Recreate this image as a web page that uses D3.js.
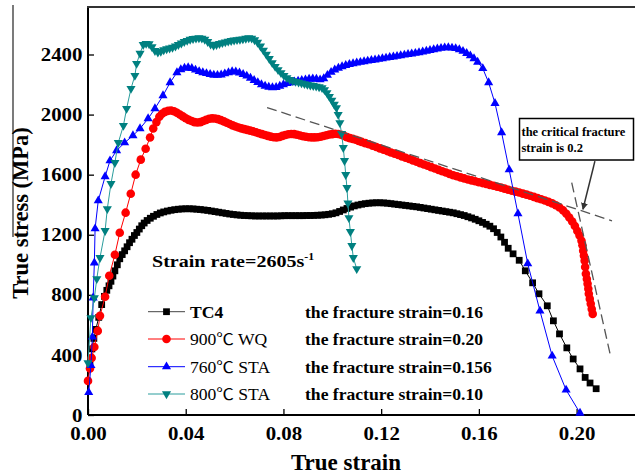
<!DOCTYPE html>
<html><head><meta charset="utf-8">
<script src="https://cdn.jsdelivr.net/npm/d3@7"></script>
<style>body{margin:0;background:#fff}svg{display:block}</style>
</head><body>
<svg id="c" width="635" height="475"></svg>
<script>
// ---------- data ----------
const xTickValues = [0, 0.04, 0.08, 0.12, 0.16, 0.20];
const yTickValues = [0, 400, 800, 1200, 1600, 2000, 2400];
const seriesNames = ["TC4", " 900℃ WQ", "760℃ STA", "800℃ STA"];
const fractureLabels = ["the fracture strain=0.16", "the fracture strain=0.20", "the fracture strain=0.156", "the fracture strain=0.10"];
const seriesColors = ["#000000", "#ff0000", "#0000ff", "#008080"];
const strainRateText = "Strain rate=2605s";
const strainRateSup = "-1";
const noteLines = ["the critical fracture", "strain is 0.2"];

const tc4 = [[0.0008,330],[0.0016,440],[0.0024,510],[0.0032,570],[0.0044,650],[0.0056,735],[0.0067,790],[0.0077,830],[0.0086,860],[0.0094,890],[0.0102,925],[0.0110,960],[0.0120,1000],[0.0130,1040],[0.0140,1068],[0.0150,1093],[0.0160,1120],[0.0170,1147],[0.0180,1170],[0.0190,1195],[0.0200,1215],[0.0210,1238],[0.0220,1260],[0.0230,1278],[0.0242,1295],[0.0255,1310],[0.0268,1323],[0.0282,1335],[0.0296,1345],[0.0310,1352],[0.0325,1358],[0.0340,1363],[0.0355,1367],[0.0370,1370],[0.0385,1372],[0.0400,1373],[0.0415,1373],[0.0430,1372],[0.0445,1370],[0.0460,1368],[0.0475,1365],[0.0490,1362],[0.0505,1358],[0.0520,1354],[0.0535,1350],[0.0550,1346],[0.0565,1342],[0.0580,1338],[0.0595,1335],[0.0610,1332],[0.0625,1330],[0.0640,1328],[0.0655,1327],[0.0670,1326],[0.0685,1325],[0.0700,1325],[0.0715,1325],[0.0730,1325],[0.0745,1325],[0.0760,1325],[0.0775,1325],[0.0790,1326],[0.0805,1327],[0.0820,1327],[0.0835,1327],[0.0850,1327],[0.0865,1327],[0.0880,1327],[0.0895,1328],[0.0910,1328],[0.0925,1329],[0.0940,1330],[0.0955,1331],[0.0970,1333],[0.0985,1336],[0.1000,1340],[0.1015,1346],[0.1030,1355],[0.1045,1365],[0.1060,1375],[0.1075,1384],[0.1090,1392],[0.1105,1398],[0.1120,1403],[0.1135,1407],[0.1150,1410],[0.1165,1412],[0.1180,1413],[0.1195,1413],[0.1210,1412],[0.1225,1410],[0.1240,1407],[0.1255,1404],[0.1270,1401],[0.1285,1398],[0.1300,1395],[0.1315,1392],[0.1330,1389],[0.1345,1386],[0.1360,1382],[0.1375,1378],[0.1390,1374],[0.1405,1370],[0.1420,1366],[0.1435,1362],[0.1450,1358],[0.1465,1354],[0.1480,1350],[0.1495,1346],[0.1510,1340],[0.1525,1334],[0.1540,1328],[0.1555,1320],[0.1570,1312],[0.1585,1303],[0.1600,1293],[0.1615,1282],[0.1630,1270],[0.1645,1257],[0.1660,1240],[0.1675,1215],[0.1690,1185],[0.1705,1150],[0.1720,1110],[0.1740,1073],[0.1765,1030],[0.1790,960],[0.1820,880],[0.1846,807],[0.1880,727],[0.1905,627],[0.1930,540],[0.1960,447],[0.1986,373],[0.2014,307],[0.2035,250],[0.2055,213],[0.2080,175]];

const wq900 = [[0.0000,227],[0.0008,310],[0.0015,380],[0.0026,453],[0.0040,560],[0.0049,660],[0.0070,787],[0.0087,927],[0.0110,1067],[0.0130,1213],[0.0154,1347],[0.0175,1473],[0.0195,1600],[0.0216,1700],[0.0236,1773],[0.0254,1847],[0.0267,1907],[0.0280,1950],[0.0292,1985],[0.0303,2005],[0.0315,2018],[0.0328,2025],[0.0340,2027],[0.0352,2022],[0.0364,2012],[0.0376,2000],[0.0388,1988],[0.0400,1976],[0.0412,1965],[0.0424,1957],[0.0436,1950],[0.0448,1947],[0.0460,1950],[0.0472,1957],[0.0484,1965],[0.0496,1972],[0.0508,1975],[0.0520,1974],[0.0532,1970],[0.0544,1963],[0.0556,1955],[0.0568,1946],[0.0580,1937],[0.0592,1928],[0.0604,1921],[0.0616,1914],[0.0628,1908],[0.0640,1903],[0.0652,1898],[0.0664,1893],[0.0676,1888],[0.0688,1882],[0.0700,1876],[0.0712,1870],[0.0724,1864],[0.0736,1858],[0.0748,1853],[0.0760,1849],[0.0772,1848],[0.0784,1851],[0.0796,1858],[0.0808,1864],[0.0820,1869],[0.0832,1871],[0.0844,1870],[0.0856,1866],[0.0868,1861],[0.0880,1856],[0.0892,1852],[0.0904,1849],[0.0916,1848],[0.0928,1848],[0.0940,1849],[0.0952,1852],[0.0964,1857],[0.0976,1862],[0.0988,1867],[0.1000,1870],[0.1012,1872],[0.1024,1871],[0.1036,1866],[0.1048,1858],[0.1060,1850],[0.1072,1843],[0.1084,1838],[0.1096,1832],[0.1108,1825],[0.1120,1818],[0.1135,1810],[0.1150,1802],[0.1165,1793],[0.1180,1784],[0.1195,1775],[0.1210,1766],[0.1225,1757],[0.1240,1748],[0.1255,1740],[0.1270,1731],[0.1285,1722],[0.1300,1713],[0.1315,1704],[0.1330,1695],[0.1345,1686],[0.1360,1677],[0.1375,1668],[0.1390,1659],[0.1405,1650],[0.1420,1641],[0.1435,1632],[0.1450,1623],[0.1465,1614],[0.1480,1605],[0.1495,1596],[0.1510,1589],[0.1525,1582],[0.1540,1575],[0.1555,1568],[0.1570,1562],[0.1585,1556],[0.1600,1550],[0.1615,1544],[0.1630,1538],[0.1645,1532],[0.1660,1526],[0.1675,1520],[0.1690,1514],[0.1705,1507],[0.1720,1500],[0.1735,1493],[0.1750,1487],[0.1765,1481],[0.1780,1474],[0.1795,1467],[0.1810,1460],[0.1825,1452],[0.1840,1444],[0.1855,1436],[0.1870,1428],[0.1885,1419],[0.1900,1409],[0.1915,1396],[0.1930,1381],[0.1945,1362],[0.1958,1340],[0.1970,1315],[0.1982,1288],[0.1993,1258],[0.2003,1225],[0.2012,1195],[0.2020,1160],[0.2024,1130],[0.2027,1093],[0.2030,1060],[0.2033,1027],[0.2035,985],[0.2038,940],[0.2042,905],[0.2045,873],[0.2048,840],[0.2050,807],[0.2054,773],[0.2058,740],[0.2062,705],[0.2066,673]];

const sta760 = [[0.0003,150],[0.0012,330],[0.0018,520],[0.0021,780],[0.0026,1013],[0.0029,1240],[0.0042,1427],[0.0070,1587],[0.0090,1693],[0.0117,1760],[0.0150,1813],[0.0184,1860],[0.0213,1907],[0.0246,1973],[0.0274,2040],[0.0307,2127],[0.0336,2213],[0.0364,2280],[0.0380,2300],[0.0395,2310],[0.0410,2313],[0.0425,2308],[0.0440,2297],[0.0455,2287],[0.0470,2280],[0.0485,2274],[0.0500,2268],[0.0515,2263],[0.0530,2262],[0.0545,2265],[0.0560,2272],[0.0575,2280],[0.0590,2286],[0.0605,2285],[0.0620,2278],[0.0635,2268],[0.0650,2257],[0.0665,2243],[0.0680,2228],[0.0695,2214],[0.0710,2200],[0.0725,2190],[0.0740,2183],[0.0755,2180],[0.0770,2182],[0.0785,2190],[0.0800,2200],[0.0815,2207],[0.0830,2213],[0.0845,2219],[0.0860,2224],[0.0875,2228],[0.0890,2232],[0.0905,2236],[0.0920,2238],[0.0935,2236],[0.0950,2232],[0.0965,2240],[0.0980,2262],[0.0995,2282],[0.1010,2298],[0.1025,2310],[0.1040,2320],[0.1055,2328],[0.1070,2335],[0.1085,2340],[0.1100,2345],[0.1115,2349],[0.1130,2353],[0.1145,2357],[0.1160,2361],[0.1175,2365],[0.1190,2369],[0.1205,2373],[0.1220,2377],[0.1235,2381],[0.1250,2385],[0.1265,2389],[0.1280,2393],[0.1295,2397],[0.1310,2401],[0.1325,2405],[0.1340,2409],[0.1355,2413],[0.1370,2418],[0.1385,2423],[0.1400,2428],[0.1415,2433],[0.1430,2438],[0.1445,2442],[0.1460,2445],[0.1475,2446],[0.1490,2444],[0.1505,2440],[0.1520,2433],[0.1535,2422],[0.1550,2408],[0.1565,2392],[0.1580,2373],[0.1595,2350],[0.1616,2307],[0.1640,2213],[0.1666,2075],[0.1693,1880],[0.1724,1633],[0.1760,1340],[0.1800,1007],[0.1850,693],[0.1900,393],[0.1957,167],[0.2014,13]];

const sta800 = [[0.0000,347],[0.0012,647],[0.0026,780],[0.0036,907],[0.0049,1047],[0.0070,1227],[0.0079,1373],[0.0094,1540],[0.0110,1680],[0.0124,1813],[0.0145,1927],[0.0158,2040],[0.0176,2173],[0.0192,2260],[0.0199,2340],[0.0213,2407],[0.0226,2465],[0.0238,2473],[0.0250,2470],[0.0262,2450],[0.0274,2425],[0.0286,2415],[0.0298,2420],[0.0310,2430],[0.0322,2437],[0.0334,2442],[0.0346,2447],[0.0358,2455],[0.0370,2465],[0.0382,2475],[0.0394,2485],[0.0406,2493],[0.0418,2500],[0.0430,2505],[0.0442,2508],[0.0454,2510],[0.0466,2508],[0.0478,2500],[0.0490,2485],[0.0502,2468],[0.0514,2460],[0.0526,2465],[0.0538,2472],[0.0550,2478],[0.0562,2483],[0.0574,2488],[0.0586,2492],[0.0598,2495],[0.0610,2498],[0.0622,2500],[0.0634,2503],[0.0646,2507],[0.0658,2510],[0.0670,2508],[0.0682,2497],[0.0694,2480],[0.0706,2455],[0.0718,2428],[0.0730,2400],[0.0742,2372],[0.0754,2345],[0.0766,2320],[0.0778,2298],[0.0790,2278],[0.0802,2260],[0.0814,2245],[0.0826,2233],[0.0838,2225],[0.0850,2220],[0.0862,2215],[0.0874,2210],[0.0886,2205],[0.0898,2200],[0.0910,2196],[0.0922,2192],[0.0934,2188],[0.0946,2184],[0.0958,2178],[0.0968,2165],[0.0978,2145],[0.0988,2120],[0.0998,2095],[0.1008,2068],[0.1017,2045],[0.1024,2000],[0.1031,1945],[0.1038,1873],[0.1045,1780],[0.1050,1693],[0.1055,1600],[0.1060,1513],[0.1064,1410],[0.1068,1313],[0.1074,1220],[0.1080,1127],[0.1086,1047],[0.1100,973]];

// guide (dashed) lines, in data units
const guideLineA = [[0.0733,2047],[0.2145,1293]];
const guideLineB = [[0.1980,1547],[0.2137,407]];
const arrowFrom = [0.2075, 1690];
const arrowTo = [0.2026, 1370];

// ---------- drawing ----------
const svg = d3.select("#c");
const serif = "'Liberation Serif','Times New Roman',Times,'Noto Sans CJK SC',serif";
const x = d3.scaleLinear().domain([0, 0.2]).range([88, 576.6]);
const y = d3.scaleLinear().domain([0, 2400]).range([415, 54.5]);
const yTop = y.invert(7);
const xRight = 0.235;

function stretchedText(g, px, py, str, size, weight, sx, anchor) {
  return g.append("text")
    .attr("transform", `translate(${px},${py}) scale(${sx},1)`)
    .attr("font-family", serif).attr("font-size", size)
    .attr("font-weight", weight).attr("text-anchor", anchor || "start")
    .attr("fill", "#000").text(str);
}

// left stray border line (from source image)
svg.append("line").attr("x1", 13).attr("x2", 13).attr("y1", 5).attr("y2", 237)
  .attr("stroke", "#333").attr("stroke-width", 1.3);

// axes
const xAxis = d3.axisBottom(x).tickValues(xTickValues).tickSize(-6).tickPadding(12).tickFormat(d3.format(".2f"));
const gx = svg.append("g").attr("transform", `translate(0,${y(0)})`).call(xAxis);
gx.select(".domain").remove();
gx.selectAll(".tick line").attr("stroke", "#000").attr("stroke-width", 1.3);
gx.selectAll("text").attr("font-family", serif).attr("font-size", 19).attr("font-weight", "bold")
  .attr("fill", "#000").attr("transform", "scale(1.1,1)");

const yAxis = d3.axisLeft(y).tickValues(yTickValues).tickSize(-6).tickPadding(5).tickFormat(d3.format("d"));
const gy = svg.append("g").attr("transform", `translate(${x(0)},0)`).call(yAxis);
gy.select(".domain").remove();
gy.selectAll(".tick line").attr("stroke", "#000").attr("stroke-width", 1.3);
gy.selectAll("text").attr("font-family", serif).attr("font-size", 19).attr("font-weight", "bold")
  .attr("fill", "#000").attr("transform", "scale(1.1,1)");

// frame lines
svg.append("line").attr("x1", x(0)).attr("x2", x(xRight)).attr("y1", y(0)).attr("y2", y(0))
  .attr("stroke", "#000").attr("stroke-width", 2);
svg.append("line").attr("x1", x(0)).attr("x2", x(0)).attr("y1", y(0)).attr("y2", y(yTop))
  .attr("stroke", "#000").attr("stroke-width", 2);
svg.append("line").attr("x1", x(0) - 1).attr("x2", x(xRight)).attr("y1", y(yTop)).attr("y2", y(yTop))
  .attr("stroke", "#333").attr("stroke-width", 2);

// axis titles
svg.append("text").attr("x", 346).attr("y", 470).attr("text-anchor", "middle")
  .attr("font-family", serif).attr("font-size", 23).attr("font-weight", "bold").text("True strain");
svg.append("text").attr("transform", "translate(28,213) rotate(-90)").attr("text-anchor", "middle")
  .attr("font-family", serif).attr("font-size", 22.5).attr("font-weight", "bold").text("True stress (MPa)");

// series
const allSeries = [tc4, wq900, sta760, sta800];
const symbolTypes = [d3.symbolSquare, d3.symbolCircle, d3.symbolTriangle, d3.symbolTriangle];
const symbolSizes = [46, 58, 36, 36];
const symbolRot = [0, 0, 0, 180];
const lineGen = d3.line().x(d => x(d[0])).y(d => y(d[1]));
const lineColors = ["#000000", "#ff0000", "#0000ff", "#2a9d9d"];

allSeries.forEach((data, i) => {
  const g = svg.append("g");
  g.append("path").datum(data).attr("d", lineGen).attr("fill", "none")
    .attr("stroke", lineColors[i]).attr("stroke-width", 1);
  const sym = d3.symbol().type(symbolTypes[i]).size(symbolSizes[i]);
  g.selectAll("path.m").data(data).join("path").attr("class", "m")
    .attr("d", sym)
    .attr("transform", d => `translate(${x(d[0])},${y(d[1])}) rotate(${symbolRot[i]})`)
    .attr("fill", seriesColors[i]);
});

// guide dashed lines
[guideLineA, guideLineB].forEach(l => {
  svg.append("path").datum(l).attr("d", lineGen).attr("fill", "none")
    .attr("stroke", "#555").attr("stroke-width", 1.3).attr("stroke-dasharray", "10,5");
});

// annotation box
const note = svg.append("g");
note.append("rect").attr("x", 519.5).attr("y", 118.5).attr("width", 114).attr("height", 41.5)
  .attr("fill", "#fff").attr("stroke", "#000").attr("stroke-width", 1.5);
noteLines.forEach((t, i) => {
  note.append("text").attr("x", 521.5).attr("y", 136 + i * 15.5)
    .attr("font-family", serif).attr("font-size", 12.5).attr("font-weight", "bold").text(t);
});
svg.append("defs").append("marker").attr("id", "ah").attr("viewBox", "0 0 10 10")
  .attr("refX", 9).attr("refY", 5).attr("markerWidth", 7).attr("markerHeight", 7)
  .attr("orient", "auto").attr("markerUnits", "userSpaceOnUse")
  .append("path").attr("d", "M0,0 L10,5 L0,10 Z").attr("fill", "#333");
svg.append("line").attr("x1", x(arrowFrom[0])).attr("y1", y(arrowFrom[1]))
  .attr("x2", x(arrowTo[0])).attr("y2", y(arrowTo[1]))
  .attr("stroke", "#333").attr("stroke-width", 1.5).attr("marker-end", "url(#ah)");

// strain rate text
const sr = stretchedText(svg, 152, 267, strainRateText, 17, "bold", 1.18);
sr.append("tspan").attr("dy", -7).attr("font-size", 10).text(strainRateSup);

// legend
const legendY = [311.7, 339, 366.7, 394];
seriesNames.forEach((name, i) => {
  const cy = legendY[i];
  svg.append("line").attr("x1", 148).attr("x2", 185).attr("y1", cy).attr("y2", cy)
    .attr("stroke", i === 0 ? "#444" : lineColors[i]).attr("stroke-width", 1);
  svg.append("path").attr("d", d3.symbol().type(symbolTypes[i]).size(symbolSizes[i])())
    .attr("transform", `translate(166.5,${cy}) rotate(${symbolRot[i]})`).attr("fill", seriesColors[i]);
  stretchedText(svg, 190, cy + 6, name, 16, i === 0 ? "bold" : "normal", 1.1);
  stretchedText(svg, 305, cy + 6, fractureLabels[i], 16, "bold", 1.1);
});
</script>
</body></html>
